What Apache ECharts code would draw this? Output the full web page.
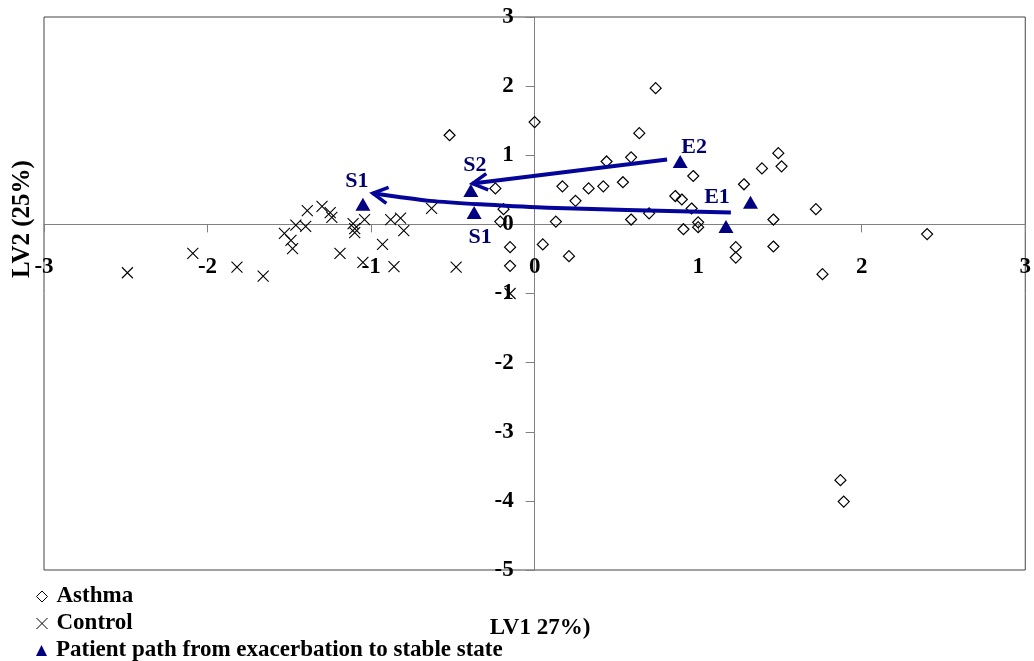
<!DOCTYPE html>
<html>
<head>
<meta charset="utf-8">
<script src="https://cdn.jsdelivr.net/npm/echarts@6/dist/echarts.min.js"></script>
<style>
  html, body { margin: 0; padding: 0; background: #fff; }
  #chart { width: 1034px; height: 661px; }
</style>
</head>
<body>
<div id="chart"></div>
<script>
// Axis ranges / tick values
const xTicks = [-3, -2, -1, 0, 1, 2, 3];
const yTicks = [-5, -4, -3, -2, -1, 0, 1, 2, 3];

// LV1 / LV2 scores, asthma subjects
const asthmaLV1 = [-0.52, -0.24, -0.19, -0.21, -0.15, -0.15, 0.00, 0.05, 0.13, 0.17, 0.21, 0.25, 0.33, 0.42,
  0.44, 0.54, 0.59, 0.59, 0.64, 0.70, 0.74, 0.86, 0.90, 0.91, 0.96, 0.97, 1.00, 1.00, 1.23, 1.23, 1.28,
  1.39, 1.46, 1.46, 1.49, 1.51, 1.72, 1.76, 1.87, 1.89, 2.40];
const asthmaLV2 = [1.29, 0.52, 0.22, 0.04, -0.33, -0.60, 1.48, -0.29, 0.04, 0.55, -0.46, 0.34, 0.52, 0.55,
  0.91, 0.61, 0.97, 0.07, 1.32, 0.16, 1.97, 0.41, 0.36, -0.07, 0.23, 0.70, 0.03, -0.04, -0.33, -0.48, 0.58,
  0.81, 0.07, -0.32, 1.03, 0.84, 0.22, -0.72, -3.70, -4.01, -0.14];

// LV1 / LV2 scores, control subjects
const controlLV1 = [-2.49, -2.09, -1.82, -1.66, -1.53, -1.49, -1.48, -1.46, -1.40, -1.39, -1.30, -1.25, -1.24,
  -1.19, -1.11, -1.10, -1.10, -1.04, -1.05, -0.93, -0.88, -0.82, -0.80, -0.86, -0.63, -0.48, -0.15];
const controlLV2 = [-0.70, -0.42, -0.62, -0.75, -0.13, -0.23, -0.35, -0.01, -0.03, 0.20, 0.26, 0.17, 0.10,
  -0.42, 0.01, -0.06, -0.12, 0.07, -0.55, -0.29, 0.07, 0.09, -0.09, -0.61, 0.23, -0.62, -1.00];

// Patient followed from exacerbation (E) to stable state (S)
const patientLV1 = [-1.05, -0.39, -0.37, 0.89, 1.32, 1.17];
const patientLV2 = [0.29, 0.49, 0.17, 0.91, 0.32, -0.03];
const patientTags = ['S1', 'S2', 'S1', 'E2', '', 'E1'];

// Paths of the patient (LV1, LV2), drawn as arrows ending at the last point
const pathE2toS2 = [[0.81, 0.94], [-0.38, 0.59]];
const pathE1toS1 = [[1.20, 0.17], [0.08, 0.24], [-0.33, 0.29], [-0.64, 0.34], [-0.84, 0.40], [-0.99, 0.45]];

const NAVY = '#000080';
const LINE_BLUE = '#05059a';
const SERIF = '"Liberation Serif", "Times New Roman", serif';
const CROSS = 'path://M0,0L10,10M10,0L0,10';
const SERIES_NAMES = ['Asthma', 'Control', 'Patient path from exacerbation to stable state'];

const zip = (a, b) => a.map((v, i) => [v, b[i]]);
const tagOffsets = [[-6, -23], [4, -25], [6, 25], [14, -14], [0, 0], [-9, -29]];

const arrowPaths = [pathE2toS2, pathE1toS1];

function renderArrow(params, api) {
  const path = arrowPaths[params.dataIndex];
  const pts = path.map(p => api.coord(p));
  const tip = pts[pts.length - 1];
  const prev = pts[pts.length - 2];
  const ang = Math.atan2(prev[1] - tip[1], prev[0] - tip[0]);
  const L = 17, spread = 0.5;
  const a1 = [tip[0] + L * Math.cos(ang + spread), tip[1] + L * Math.sin(ang + spread)];
  const a2 = [tip[0] + L * Math.cos(ang - spread), tip[1] + L * Math.sin(ang - spread)];
  return {
    type: 'group',
    children: [
      { type: 'polyline', shape: { points: pts, smooth: pts.length > 2 ? 0.3 : 0 },
        style: { stroke: LINE_BLUE, lineWidth: 4, fill: null } },
      { type: 'polyline', shape: { points: [a1, tip, a2] },
        style: { stroke: LINE_BLUE, lineWidth: 3.5, fill: null, lineJoin: 'miter' } }
    ]
  };
}

const chart = echarts.init(document.getElementById('chart'), null, { renderer: 'canvas' });

const axisLabelStyle = { fontFamily: SERIF, fontWeight: 'bold', fontSize: 23, color: '#000' };
const legendText = { fontFamily: SERIF, fontWeight: 'bold', fontSize: 23, color: '#000', padding: [0, 0, 0, 4] };

function legendRow(name, icon, itemStyle, top) {
  return {
    orient: 'horizontal', left: 36, top: top, padding: 0, itemWidth: 11, itemHeight: 11,
    textStyle: legendText, selectedMode: false,
    data: [{ name: name, icon: icon, itemStyle: itemStyle }]
  };
}

chart.setOption({
  animation: false,
  backgroundColor: '#fff',
  grid: { left: 44, top: 17, right: 6, bottom: 91, show: true, borderColor: '#444', borderWidth: 1 },
  xAxis: {
    type: 'value', min: xTicks[0], max: xTicks[xTicks.length - 1], interval: 1,
    axisLine: { onZero: false, lineStyle: { color: '#808080', width: 1 } },
    axisTick: { show: true, length: 8, lineStyle: { color: '#808080' } },
    axisLabel: Object.assign({ margin: 31, showMinLabel: true, showMaxLabel: true }, axisLabelStyle),
    splitLine: { show: false }
  },
  yAxis: {
    type: 'value', min: yTicks[0], max: yTicks[yTicks.length - 1], interval: 1,
    axisLine: { onZero: false, lineStyle: { color: '#808080', width: 1 } },
    axisTick: { show: true, length: 9, lineStyle: { color: '#808080' } },
    axisLabel: Object.assign({ margin: 21, padding: [7, 0, 0, 0] }, axisLabelStyle),
    splitLine: { show: false }
  },
  legend: [
    legendRow(SERIES_NAMES[0], 'diamond', { color: 'transparent', borderColor: '#000', borderWidth: 1, opacity: 1 }, 585),
    legendRow(SERIES_NAMES[1], CROSS, { color: 'transparent', borderColor: '#000', borderWidth: 1, opacity: 1 }, 612),
    legendRow(SERIES_NAMES[2], 'triangle', { color: NAVY, opacity: 1 }, 639)
  ],
  graphic: [
    { type: 'text', x: 23, y: 219, rotation: Math.PI / 2,
      style: { text: 'LV2 (25%)', fontFamily: SERIF, fontWeight: 'bold', fontSize: 25, fill: '#000',
               align: 'center', verticalAlign: 'middle' } },
    { type: 'text', x: 540, y: 628,
      style: { text: 'LV1 27%)', fontFamily: SERIF, fontWeight: 'bold', fontSize: 23, fill: '#000',
               align: 'center', verticalAlign: 'middle' } }
  ],
  series: [
    {
      name: SERIES_NAMES[0], type: 'scatter', symbol: 'diamond', symbolSize: 11,
      itemStyle: { color: 'transparent', borderColor: '#000', borderWidth: 1.2, opacity: 1 },
      data: zip(asthmaLV1, asthmaLV2), z: 3
    },
    {
      name: SERIES_NAMES[1], type: 'scatter', symbol: CROSS, symbolSize: 11,
      itemStyle: { color: 'transparent', borderColor: '#000', borderWidth: 1.1, opacity: 1 },
      data: zip(controlLV1, controlLV2), z: 3
    },
    {
      name: SERIES_NAMES[2], type: 'scatter', symbol: 'triangle',
      symbolSize: [15, 13], itemStyle: { color: NAVY, opacity: 1 },
      data: zip(patientLV1, patientLV2).map((p, i) => ({
        value: p,
        label: {
          show: patientTags[i] !== '', formatter: patientTags[i], position: 'inside',
          offset: tagOffsets[i], fontFamily: SERIF, fontWeight: 'bold', fontSize: 22, color: '#00006e',
          textBorderWidth: 0, textBorderColor: 'transparent', opacity: 1
        }
      })),
      z: 4
    },
    {
      name: 'arrows', type: 'custom', renderItem: renderArrow,
      data: arrowPaths.map(p => p[0]), z: 5, silent: true
    }
  ]
});

// Move both axes (line, ticks and labels) onto the zero lines of the other axis.
const origin = chart.convertToPixel({ gridIndex: 0 }, [0, 0]);
const corner = chart.convertToPixel({ gridIndex: 0 }, [xTicks[0], yTicks[0]]);
chart.setOption({
  xAxis: { offset: -(corner[1] - origin[1]) },
  yAxis: { offset: -(origin[0] - corner[0]) }
});
</script>
</body>
</html>
